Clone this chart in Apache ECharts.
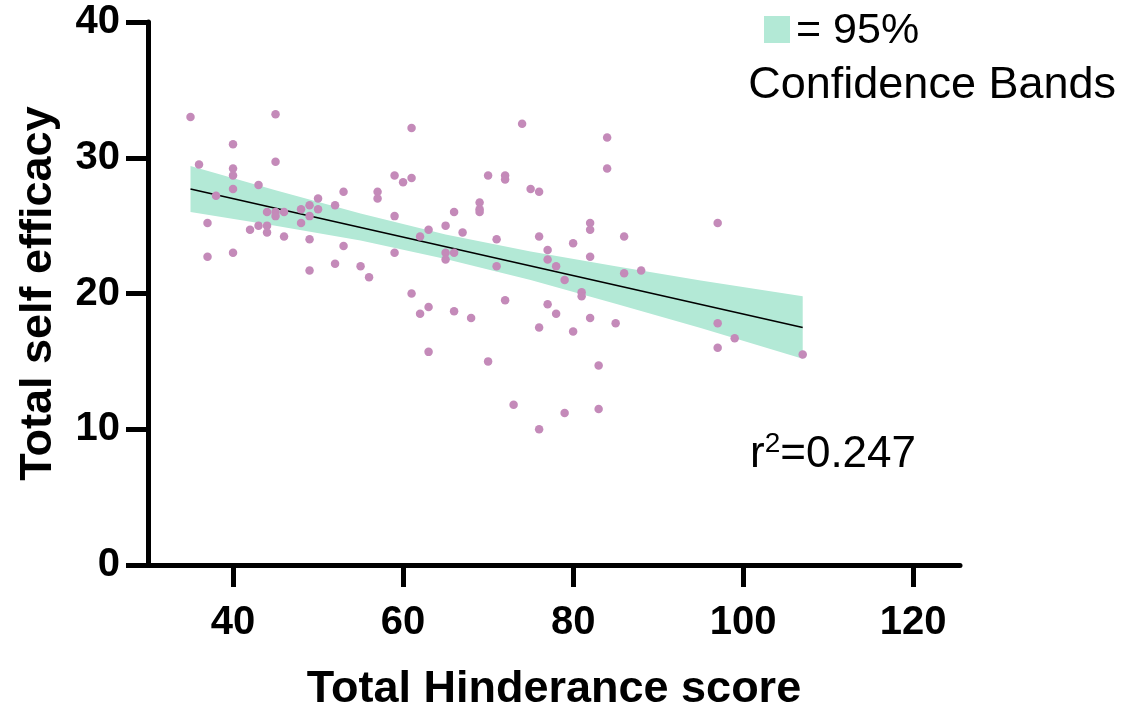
<!DOCTYPE html>
<html><head><meta charset="utf-8">
<script src="https://cdn.jsdelivr.net/npm/echarts@6/dist/echarts.min.js"></script>
<style>html,body{margin:0;padding:0;background:#fff}#c{width:1121px;height:704px}</style>
</head><body><div id="c"></div>
<script>
// Scatter data: [Total Hinderance score, Total self efficacy]
const pointsX = [35,45,40,61,36,40,40,45,43,38,40,50,53,57,57,59,60,61,
  37,37,40,42,43,44,44,44,45,45,46,46,48,48,49,49,49,49,50,52,52,53,55,56,59,59,61,62,62,63,63,63,
  65,65,65,66,66,67,69,69,69,70,71,71,72,72,72,74,75,76,76,77,77,78,79,80,81,81,82,82,82,84,84,86,86,88,97,
  66,68,70,73,76,76,77,78,79,80,82,83,83,85,97,97,99,107];
const pointsY = [33.0,33.2,31.0,32.2,29.5,29.2,28.7,29.7,28.0,27.2,27.7,27.0,27.5,27.5,27.0,28.7,28.2,28.5,
  25.2,22.7,23.0,24.7,25.0,26.0,25.0,24.5,26.0,25.7,26.0,24.2,26.2,25.2,26.5,25.7,24.0,21.7,26.2,26.5,22.2,23.5,22.0,21.2,25.7,23.0,20.0,24.2,18.5,24.7,19.0,15.7,
  25.0,23.0,22.5,26.0,23.0,24.5,26.7,26.2,26.0,28.7,24.0,22.0,28.7,28.4,19.5,32.5,27.7,27.5,24.2,23.2,22.5,22.0,21.0,23.7,20.1,19.8,25.2,24.7,22.7,31.5,29.2,24.2,21.5,21.7,25.2,
  18.7,18.2,15.0,11.8,17.5,10.0,19.2,18.5,11.2,17.2,18.2,14.7,11.5,17.8,17.8,16.0,16.7,15.5];
// Regression line
const fitX = [35, 107];
const fitY = [27.7, 17.5];
// 95% confidence band
const bandX = [35, 45, 55, 65, 75, 85, 95, 107];
const bandLow = [26.0, 25.0, 23.9, 22.55, 21.0, 19.25, 17.45, 15.2];
const bandHigh = [29.4, 27.6, 25.9, 24.35, 23.1, 22.0, 20.95, 19.8];
// Ticks
const xTicks = [40, 60, 80, 100, 120];
const yTicks = [0, 10, 20, 30, 40];
const xTitle = 'Total Hinderance score';
const yTitle = 'Total self efficacy';
const legendText1 = '= 95%';
const legendText2 = 'Confidence Bands';
const r2Value = '0.247';

const FONT = '"Liberation Sans", Arial, Helvetica, sans-serif';
const chart = echarts.init(document.getElementById('c'));
const scatterData = pointsX.map((x, i) => [x, pointsY[i]]);
const fitData = fitX.map((x, i) => [x, fitY[i]]);

chart.setOption({
  animation: false,
  backgroundColor: '#fff',
  grid: { left: 148, right: 161, top: 22, bottom: 139, containLabel: false, outerBoundsMode: 'none' },
  xAxis: {
    type: 'value', min: 30, max: 125.5,
    axisLine: { show: true, lineStyle: { color: '#000', width: 5 } },
    axisTick: { show: true, customValues: xTicks, length: 22, lineStyle: { color: '#000', width: 5 } },
    axisLabel: { customValues: xTicks, margin: 38, color: '#000', fontSize: 40, fontWeight: 'bold', fontFamily: FONT },
    splitLine: { show: false },
    name: xTitle, nameLocation: 'middle', nameGap: 102,
    nameTextStyle: { color: '#000', fontSize: 45, fontWeight: 'bold', fontFamily: FONT }
  },
  yAxis: {
    type: 'value', min: 0, max: 40, interval: 10,
    axisLine: { show: true, lineStyle: { color: '#000', width: 5 } },
    axisTick: { show: true, customValues: yTicks, length: 22, lineStyle: { color: '#000', width: 5 } },
    axisLabel: { customValues: yTicks, margin: 28, color: '#000', fontSize: 40, fontWeight: 'bold', fontFamily: FONT },
    splitLine: { show: false },
    name: yTitle, nameLocation: 'middle', nameGap: 87, nameRotate: 90,
    nameTextStyle: { color: '#000', fontSize: 45, fontWeight: 'bold', fontFamily: FONT }
  },
  series: [
    {
      type: 'custom', z: 1, silent: true,
      data: [[bandX[0], bandLow[0]]],
      renderItem: function (params, api) {
        const pts = [];
        for (let i = 0; i < bandX.length; i++) pts.push(api.coord([bandX[i], bandHigh[i]]));
        for (let i = bandX.length - 1; i >= 0; i--) pts.push(api.coord([bandX[i], bandLow[i]]));
        return { type: 'polygon', shape: { points: pts }, style: { fill: '#b3e9d6' } };
      }
    },
    {
      type: 'line', z: 2, data: fitData, symbol: 'none',
      lineStyle: { color: '#000', width: 1.6 }
    },
    {
      type: 'scatter', z: 3, data: scatterData, symbolSize: 8.5,
      itemStyle: { color: '#c48ab9', opacity: 1 }
    }
  ],
  graphic: [
    { type: 'rect', left: 764, top: 16, shape: { width: 26, height: 27 }, style: { fill: '#b3e9d6' } },
    { type: 'text', left: 796, top: 10, style: { text: legendText1, fontSize: 43, fontFamily: FONT, fill: '#000' } },
    { type: 'text', right: 5, top: 63, style: { text: legendText2, fontSize: 45, fontFamily: FONT, fill: '#000' } },
    { type: 'text', left: 750, top: 430, style: {
        text: '{b|r}{s|2}{b|=' + r2Value + '}',
        rich: {
          b: { fontSize: 44, fontFamily: FONT, color: '#000', lineHeight: 50 },
          s: { fontSize: 28, fontFamily: FONT, color: '#000', verticalAlign: 'top', lineHeight: 50, padding: [0, 0, 14, 0] }
        }
    } }
  ]
});
</script>
</body></html>
